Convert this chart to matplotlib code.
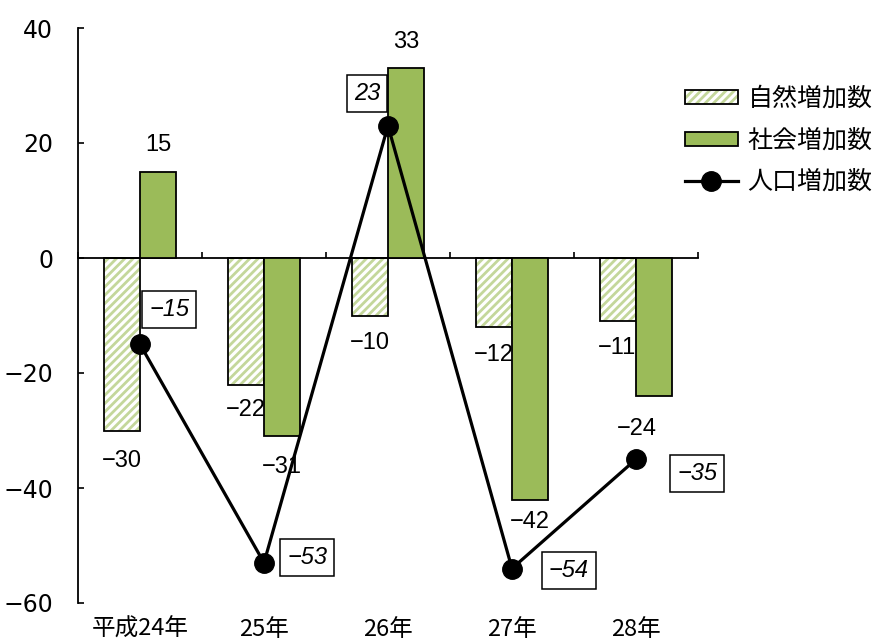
import matplotlib
matplotlib.use("Agg")
import matplotlib.pyplot as plt
import numpy as np
from matplotlib.patches import Patch, Rectangle
from matplotlib.lines import Line2D

plt.rcParams['font.family'] = ['Noto Sans CJK JP', 'DejaVu Sans']
plt.rcParams['hatch.linewidth'] = 2.0

years = ["平成24年", "25年", "26年", "27年", "28年"]
natural = [-30, -22, -10, -12, -11]
social = [15, -31, 33, -42, -24]
total = [-15, -53, 23, -54, -35]

green = "#9BBB59"
hatch_green = "#C4D79B"
num_font = ['Liberation Sans Narrow', 'Liberation Sans', 'DejaVu Sans']

fig = plt.figure(figsize=(8.76, 6.44), dpi=100)
ax = fig.add_axes([78/876, 1-603/644, (698-78)/876, (603-28)/644])

x = np.arange(len(years))
w = 0.29

# natural increase: hatched fill, then black outline
ax.bar(x - w/2, natural, w, color="white", edgecolor=hatch_green, hatch="////", linewidth=0, zorder=2)
ax.bar(x - w/2, natural, w, fill=False, edgecolor="black", linewidth=1.3, zorder=3)
# social increase
ax.bar(x + w/2, social, w, color=green, edgecolor="black", linewidth=1.3, zorder=3)
# population increase
ax.plot(x, total, color="black", linewidth=2.3, marker="o", markersize=14, zorder=5)

ax.set_xlim(-0.5, 4.5)
ax.set_ylim(-60, 40)
ax.set_yticks(np.arange(-60, 41, 20))
ax.tick_params(axis="y", labelsize=17, direction="in", length=4.5, width=1.2, pad=18)
for t in ax.get_yticklabels():
    t.set_family(['DejaVu Sans'])
for s in ("top", "right"):
    ax.spines[s].set_visible(False)
ax.spines["bottom"].set_position(("data", 0))
ax.spines["bottom"].set_linewidth(1.3)
ax.spines["left"].set_linewidth(1.3)
ax.set_xticks(np.arange(-0.5, 4.6, 1.0))
ax.tick_params(axis="x", direction="in", length=4.5, width=1.2, labelbottom=False)
for xi, lab in zip(x, years):
    ax.text(xi, -0.046, lab, transform=ax.get_xaxis_transform(), ha="center", va="center", fontsize=17)

def fmt(v):
    return f"{v:d}".replace("-", "−")

# bar value labels (offsets in points)
nat_off = [(0, -22), (0, -18), (0, -20), (0, -20), (-1, -19)]
soc_off = [(0, 19), (0, -22), (0, 19), (0, -16), (-12, -24)]
for xi, v, (dx, dy) in zip(x, natural, nat_off):
    ax.annotate(fmt(v), (xi - w/2, v), xytext=(dx, dy), textcoords="offset points",
                ha="center", va="center", fontsize=17, family=num_font)
for xi, v, (dx, dy) in zip(x, social, soc_off):
    ax.annotate(fmt(v), (xi + w/2, v), xytext=(dx, dy), textcoords="offset points",
                ha="center", va="center", fontsize=17, family=num_font)

# boxed labels for population increase
tot_off = [(21, 25), (31, 4), (-15, 23), (41, -1.5), (44, -10)]
for xi, v, (dx, dy) in zip(x, total, tot_off):
    ax.annotate(fmt(v), (xi, v), xytext=(dx, dy), textcoords="offset points",
                ha="center", va="center", fontsize=17, style="italic", family=num_font,
                bbox=dict(boxstyle="square,pad=0.3", fc="white", ec="black", lw=1.1), zorder=6)

handles = [
    Patch(facecolor="white", edgecolor=hatch_green, hatch="////", linewidth=0),
    Patch(facecolor=green, edgecolor="black", linewidth=1.3),
    Line2D([0], [0], color="black", linewidth=2.3, marker="o", markersize=14),
]
leg = fig.legend(handles, ["自然増加数", "社会増加数", "人口増加数"], loc="upper left",
                 bbox_to_anchor=(685/876, 1-86/644), frameon=False, fontsize=18,
                 handlelength=2.1, handleheight=0.5, handletextpad=0.4, labelspacing=0.62,
                 borderpad=0, borderaxespad=0)
# black outline around the hatched legend swatch
fig.canvas.draw()
bb = leg.legend_handles[0].get_window_extent()
fig.patches.append(Rectangle((bb.x0, bb.y0), bb.width, bb.height, transform=None,
                             fill=False, edgecolor="black", linewidth=1.3, zorder=10))

fig.savefig("out.png", dpi=100)
